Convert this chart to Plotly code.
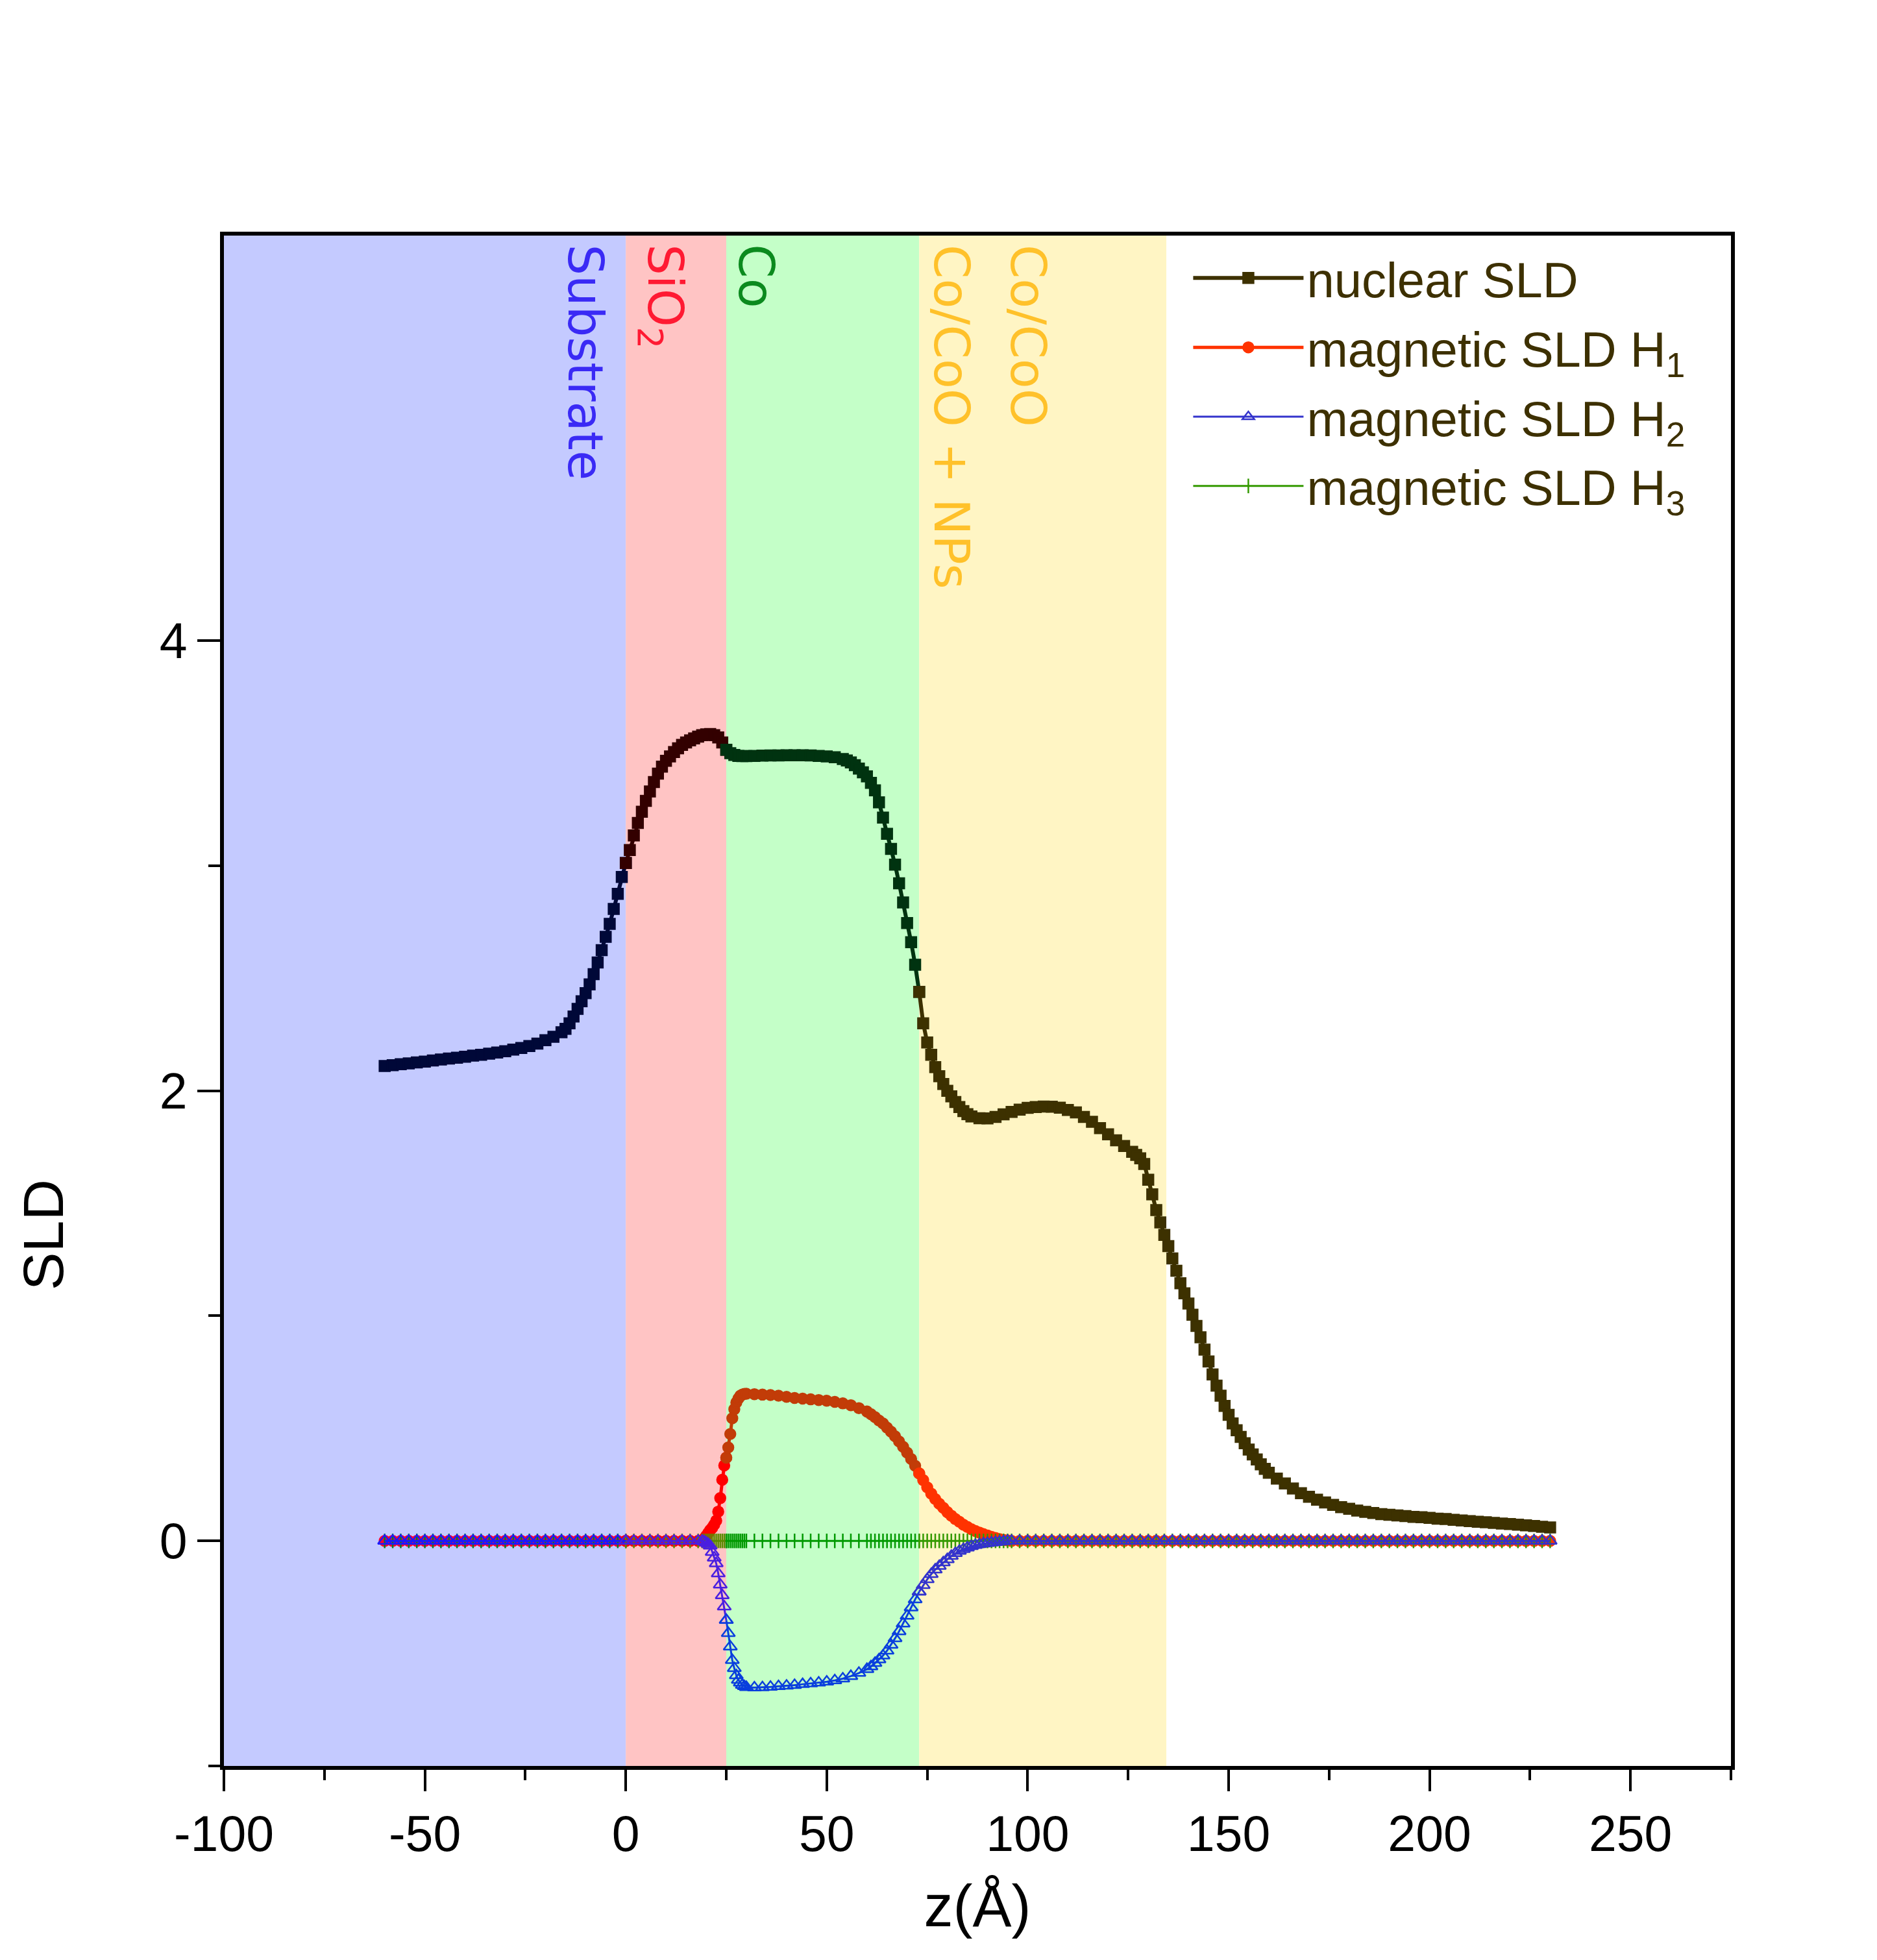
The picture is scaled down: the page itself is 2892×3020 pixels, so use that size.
import numpy as np
import plotly.graph_objects as go

# --- depth grid and nuclear SLD profile ---
Z_NUC = [
    -60, -58, -56, -54, -52, -50, -48, -46, -44, -42,
    -40, -38, -36, -34, -32, -30, -28, -26, -24, -22,
    -20, -18, -16, -15, -14, -13, -12, -11, -10, -9,
    -8, -7, -6, -5, -4, -3, -2, -1, 0, 1,
    2, 3, 4, 5, 6, 7, 8, 9, 10, 11,
    12, 13, 14, 15, 16, 17, 18, 19, 20, 21,
    22, 23, 24, 25, 26, 27, 28, 29, 30, 32,
    34, 36, 38, 40, 42, 44, 46, 48, 50, 52,
    54, 55, 56, 57, 58, 59, 60, 61, 62, 63,
    64, 65, 66, 67, 68, 69, 70, 71, 72, 73,
    74, 75, 76, 77, 78, 79, 80, 81, 82, 83,
    84, 85, 86, 88, 90, 92, 94, 96, 98, 100,
    102, 104, 106, 108, 110, 112, 114, 116, 118, 120,
    122, 124, 126, 127, 128, 129, 130, 131, 132, 133,
    134, 135, 136, 137, 138, 139, 140, 141, 142, 143,
    144, 145, 146, 147, 148, 149, 150, 151, 152, 153,
    154, 155, 156, 157, 158, 159, 160, 162, 164, 166,
    168, 170, 172, 174, 176, 178, 180, 182, 184, 186,
    188, 190, 192, 194, 196, 198, 200, 202, 204, 206,
    208, 210, 212, 214, 216, 218, 220, 222, 224, 226,
    228, 230,
]
SLD_NUC = [
    2.110, 2.114, 2.118, 2.122, 2.126, 2.130, 2.135, 2.139, 2.143, 2.147,
    2.151, 2.156, 2.160, 2.165, 2.170, 2.176, 2.183, 2.190, 2.199, 2.210,
    2.225, 2.240, 2.260, 2.275, 2.300, 2.330, 2.364, 2.398, 2.434, 2.473,
    2.518, 2.570, 2.625, 2.684, 2.742, 2.808, 2.875, 2.950, 3.012, 3.070,
    3.135, 3.190, 3.240, 3.288, 3.330, 3.372, 3.409, 3.440, 3.466, 3.486,
    3.505, 3.522, 3.537, 3.548, 3.557, 3.566, 3.574, 3.580, 3.584, 3.585,
    3.580, 3.570, 3.548, 3.515, 3.500, 3.492, 3.488, 3.487, 3.487, 3.488,
    3.489, 3.490, 3.490, 3.491, 3.491, 3.491, 3.490, 3.488, 3.486, 3.482,
    3.474, 3.468, 3.459, 3.447, 3.432, 3.415, 3.397, 3.368, 3.335, 3.282,
    3.214, 3.142, 3.075, 3.005, 2.922, 2.837, 2.745, 2.660, 2.560, 2.440,
    2.300, 2.215, 2.160, 2.105, 2.065, 2.030, 2.000, 1.975, 1.950, 1.928,
    1.910, 1.896, 1.886, 1.878, 1.877, 1.884, 1.895, 1.906, 1.916, 1.924,
    1.928, 1.930, 1.929, 1.925, 1.915, 1.904, 1.884, 1.862, 1.834, 1.807,
    1.780, 1.755, 1.729, 1.715, 1.700, 1.675, 1.605, 1.540, 1.470, 1.415,
    1.360, 1.310, 1.255, 1.200, 1.145, 1.100, 1.055, 1.005, 0.955, 0.905,
    0.850, 0.797, 0.740, 0.690, 0.645, 0.600, 0.560, 0.522, 0.492, 0.462,
    0.434, 0.406, 0.384, 0.362, 0.340, 0.320, 0.303, 0.277, 0.255, 0.233,
    0.212, 0.196, 0.183, 0.171, 0.160, 0.150, 0.143, 0.135, 0.129, 0.124,
    0.119, 0.116, 0.113, 0.110, 0.107, 0.105, 0.102, 0.099, 0.097, 0.094,
    0.091, 0.088, 0.085, 0.083, 0.080, 0.077, 0.075, 0.072, 0.069, 0.066,
    0.063, 0.060,
]

# --- magnetic SLD profiles, shared depth grid ---
Z_MAG = [
    -60, -58, -56, -54, -52, -50, -48, -46, -44, -42,
    -40, -38, -36, -34, -32, -30, -28, -26, -24, -22,
    -20, -18, -16, -14, -12, -10, -8, -6, -4, -2,
    0, 2, 4, 6, 8, 10, 12, 14, 16, 18,
    19.0, 19.5, 20.0, 20.5, 21.0, 21.5, 22.0, 22.5, 23.0, 23.5,
    24.0, 24.5, 25.0, 25.5, 26.0, 26.5, 27.0, 27.5, 28.0, 28.5,
    29.0, 29.5, 30.0,
    32, 34, 36, 38, 40, 42, 44, 46, 48, 50, 52, 54, 56, 58, 60,
    61, 62, 63, 64, 65, 66, 67, 68, 69, 70,
    71, 72, 73, 74, 75, 76, 77, 78, 79, 80,
    81, 82, 83, 84, 85, 86, 87, 88, 89, 90,
    91, 92, 93, 94, 95, 96,
    98, 100, 102, 104, 106, 108, 110, 112, 114, 116,
    118, 120, 122, 124, 126, 128, 130, 132, 134, 136,
    138, 140, 142, 144, 146, 148, 150, 152, 154, 156,
    158, 160, 162, 164, 166, 168, 170, 172, 174, 176,
    178, 180, 182, 184, 186, 188, 190, 192, 194, 196,
    198, 200, 202, 204, 206, 208, 210, 212, 214, 216,
    218, 220, 222, 224, 226, 228, 230,
]
SLD_H1 = [
    0, 0, 0, 0, 0, 0, 0, 0, 0, 0,
    0, 0, 0, 0, 0, 0, 0, 0, 0, 0,
    0, 0, 0, 0, 0, 0, 0, 0, 0, 0,
    0, 0, 0, 0, 0, 0, 0, 0, 0, 0,
    0.003, 0.010, 0.022, 0.035, 0.048, 0.058, 0.072, 0.090, 0.130, 0.190,
    0.272, 0.335, 0.370, 0.415, 0.475, 0.545, 0.585, 0.615, 0.632, 0.645,
    0.650, 0.653, 0.654,
    0.652, 0.650, 0.648, 0.645, 0.640, 0.635, 0.632, 0.629, 0.626, 0.623,
    0.618, 0.611, 0.603, 0.590, 0.575,
    0.563, 0.550, 0.535, 0.522, 0.503, 0.485, 0.465, 0.442, 0.418, 0.392,
    0.364, 0.334, 0.300, 0.270, 0.238, 0.210, 0.186, 0.165, 0.147, 0.128,
    0.112, 0.097, 0.085, 0.072, 0.062, 0.052, 0.044, 0.037, 0.030, 0.024,
    0.018, 0.013, 0.008, 0.004, 0.002, 0,
    0, 0, 0, 0, 0, 0, 0, 0, 0, 0,
    0, 0, 0, 0, 0, 0, 0, 0, 0, 0,
    0, 0, 0, 0, 0, 0, 0, 0, 0, 0,
    0, 0, 0, 0, 0, 0, 0, 0, 0, 0,
    0, 0, 0, 0, 0, 0, 0, 0, 0, 0,
    0, 0, 0, 0, 0, 0, 0, 0, 0, 0,
    0, 0, 0, 0, 0, 0, 0,
]
SLD_H2 = [
    0, 0, 0, 0, 0, 0, 0, 0, 0, 0,
    0, 0, 0, 0, 0, 0, 0, 0, 0, 0,
    0, 0, 0, 0, 0, 0, 0, 0, 0, 0,
    0, 0, 0, 0, 0, 0, 0, 0, 0, 0,
    0, -0.003, -0.008, -0.014, -0.022, -0.050, -0.075, -0.100, -0.145, -0.195,
    -0.242, -0.292, -0.352, -0.410, -0.470, -0.530, -0.566, -0.598, -0.618, -0.630,
    -0.640, -0.646, -0.650,
    -0.652, -0.651, -0.649, -0.646, -0.644, -0.641, -0.637, -0.634, -0.630, -0.626,
    -0.620, -0.612, -0.601, -0.587, -0.570,
    -0.558, -0.543, -0.527, -0.510, -0.488, -0.462, -0.433, -0.402, -0.368, -0.333,
    -0.296, -0.260, -0.226, -0.197, -0.171, -0.148, -0.128, -0.112, -0.096, -0.082,
    -0.067, -0.055, -0.045, -0.037, -0.030, -0.024, -0.019, -0.015, -0.012, -0.010,
    -0.008, -0.006, -0.004, -0.002, 0, 0,
    0, 0, 0, 0, 0, 0, 0, 0, 0, 0,
    0, 0, 0, 0, 0, 0, 0, 0, 0, 0,
    0, 0, 0, 0, 0, 0, 0, 0, 0, 0,
    0, 0, 0, 0, 0, 0, 0, 0, 0, 0,
    0, 0, 0, 0, 0, 0, 0, 0, 0, 0,
    0, 0, 0, 0, 0, 0, 0, 0, 0, 0,
    0, 0, 0, 0, 0, 0, 0,
]
SLD_H3 = [
    0, 0, 0, 0, 0, 0, 0, 0, 0, 0,
    0, 0, 0, 0, 0, 0, 0, 0, 0, 0,
    0, 0, 0, 0, 0, 0, 0, 0, 0, 0,
    0, 0, 0, 0, 0, 0, 0, 0, 0, 0,
    0, 0, 0, 0, 0, 0, 0, 0, 0, 0,
    0, 0, 0, 0, 0, 0, 0, 0, 0, 0,
    0, 0, 0,
    0, 0, 0, 0, 0, 0, 0, 0, 0, 0,
    0, 0, 0, 0, 0,
    0, 0, 0, 0, 0, 0, 0, 0, 0, 0,
    0, 0, 0, 0, 0, 0, 0, 0, 0, 0,
    0, 0, 0, 0, 0, 0, 0, 0, 0, 0,
    0, 0, 0, 0, 0, 0,
    0, 0, 0, 0, 0, 0, 0, 0, 0, 0,
    0, 0, 0, 0, 0, 0, 0, 0, 0, 0,
    0, 0, 0, 0, 0, 0, 0, 0, 0, 0,
    0, 0, 0, 0, 0, 0, 0, 0, 0, 0,
    0, 0, 0, 0, 0, 0, 0, 0, 0, 0,
    0, 0, 0, 0, 0, 0, 0, 0, 0, 0,
    0, 0, 0, 0, 0, 0, 0,
]

# axis ticks (the original uses plain hyphens for negatives)
X_TICKS = [-100, -50, 0, 50, 100, 150, 200, 250]
X_TICK_TEXT = ["-100", "-50", "0", "50", "100", "150", "200", "250"]
Y_TICKS = [0, 2, 4]
Y_MINOR = [-1, 1, 3]

# --- layer stack shading and labels ---
LAYER_EDGES = [-100, 0, 25, 73, 134.5]
LAYER_FILLS = ["#C4CAFF", "#FFC4C4", "#C4FFC8", "#FFF5C4"]
LABELS = ["Substrate", "SiO<sub>2</sub>", "Co", "Co/CoO + NPs", "Co/CoO"]
LABEL_Z = [-10, 9, 32.5, 81, 100]
LABEL_COLORS = ["#3A2AF5", "#FF1A33", "#0B8A1E", "#FFC12A", "#FFC12A"]

# curves look tinted where they cross a coloured layer:
# colours for [substrate, SiO2, Co, rest]
SERIES = [
    # name, z, values, colours, marker symbol, marker size, line width, rank
    ("nuclear SLD", Z_NUC, SLD_NUC,
     ["#000838", "#330000", "#003310", "#3D3100"], "square", 16, 6, 1),
    ("magnetic SLD H<sub>1</sub>", Z_MAG, SLD_H1,
     ["#FF0033", "#FF0000", "#C23C08", "#FF3300"], "circle", 16, 5, 2),
    ("magnetic SLD H<sub>3</sub>", Z_MAG, SLD_H3,
     ["#00802A", "#5C8A00", "#009900", "#339900"], "line-ns", 16, 3, 4),
    ("magnetic SLD H<sub>2</sub>", Z_MAG, SLD_H2,
     ["#1A1AFF", "#4A1FE0", "#0A3FDD", "#3333CC"], "triangle-up-open", 18, 3, 3),
]

AXIS_FONT = "Liberation Sans, Arial, sans-serif"


def split_by_layer(z, v):
    z = np.asarray(z, dtype=float)
    v = np.asarray(v, dtype=float)
    bounds = [-np.inf, LAYER_EDGES[1], LAYER_EDGES[2], LAYER_EDGES[3], np.inf]
    for i in range(4):
        idx = np.where((z >= bounds[i]) & (z < bounds[i + 1]))[0]
        if len(idx) == 0:
            continue
        # keep the line joined to the next segment
        if idx[-1] + 1 < len(z):
            idx = np.append(idx, idx[-1] + 1)
        yield i, z[idx], v[idx]


fig = go.Figure()

for name, z, vals, cols, symbol, msize, lw, rank in SERIES:
    for i, zs, vs in split_by_layer(z, vals):
        fig.add_trace(go.Scatter(
            x=zs, y=vs,
            mode="lines+markers",
            name=name,
            legendgroup=name,
            legendrank=rank,
            showlegend=(i == 3),
            line=dict(color=cols[i], width=lw),
            marker=dict(symbol=symbol, size=msize, color=cols[i],
                        line=dict(color=cols[i], width=2.5)),
            hoverinfo="x+y",
        ))

shapes = []
for x0, x1, fill in zip(LAYER_EDGES[:-1], LAYER_EDGES[1:], LAYER_FILLS):
    shapes.append(dict(type="rect", xref="x", yref="paper",
                       x0=x0, x1=x1, y0=0, y1=1,
                       fillcolor=fill, line=dict(width=0), layer="below"))

annotations = []
for text, zx, col in zip(LABELS, LABEL_Z, LABEL_COLORS):
    annotations.append(dict(
        text=text, x=zx, xref="x", y=0.995, yref="paper",
        xanchor="center", yanchor="top", textangle=90, showarrow=False,
        font=dict(family="DejaVu Sans", size=75, color=col),
    ))

# y title sits below the middle of the axis in the original
annotations.append(dict(
    text="SLD", x=-0.12, xref="paper", y=0.347, yref="paper",
    xanchor="center", yanchor="middle", textangle=-90, showarrow=False,
    font=dict(family=AXIS_FONT, size=88, color="black"),
))

fig.update_layout(
    width=2892, height=3020,
    margin=dict(l=337, r=233, t=355, b=307),
    paper_bgcolor="white", plot_bgcolor="white",
    shapes=shapes, annotations=annotations,
    showlegend=True,
    legend=dict(
        x=0.641, y=0.996, xanchor="left", yanchor="top",
        bgcolor="rgba(0,0,0,0)", borderwidth=0,
        font=dict(family=AXIS_FONT, size=76, color="#3D3000"),
        itemwidth=170, tracegroupgap=5,
    ),
    xaxis=dict(
        range=[-100, 275], tickmode="array",
        tickvals=X_TICKS, ticktext=X_TICK_TEXT,
        ticks="outside", ticklen=33, tickwidth=4, tickcolor="black",
        showline=True, linewidth=6, linecolor="black", mirror=True,
        showgrid=False, zeroline=False,
        minor=dict(dtick=25, ticks="outside", ticklen=16, tickwidth=4,
                   tickcolor="black", showgrid=False),
        tickfont=dict(family=AXIS_FONT, size=77, color="black"),
        title=dict(text="z(Å)", standoff=40,
                   font=dict(family=AXIS_FONT, size=90, color="black")),
    ),
    yaxis=dict(
        range=[-1, 5.8], tickmode="array", tickvals=Y_TICKS,
        ticks="outside", ticklen=35, tickwidth=4, tickcolor="black",
        showline=True, linewidth=6, linecolor="black", mirror=True,
        showgrid=False, zeroline=False,
        minor=dict(tickmode="array", tickvals=Y_MINOR, ticks="outside",
                   ticklen=18, tickwidth=4, tickcolor="black",
                   showgrid=False),
        tickfont=dict(family=AXIS_FONT, size=77, color="black"),
    ),
)

fig.write_html("out.html")
